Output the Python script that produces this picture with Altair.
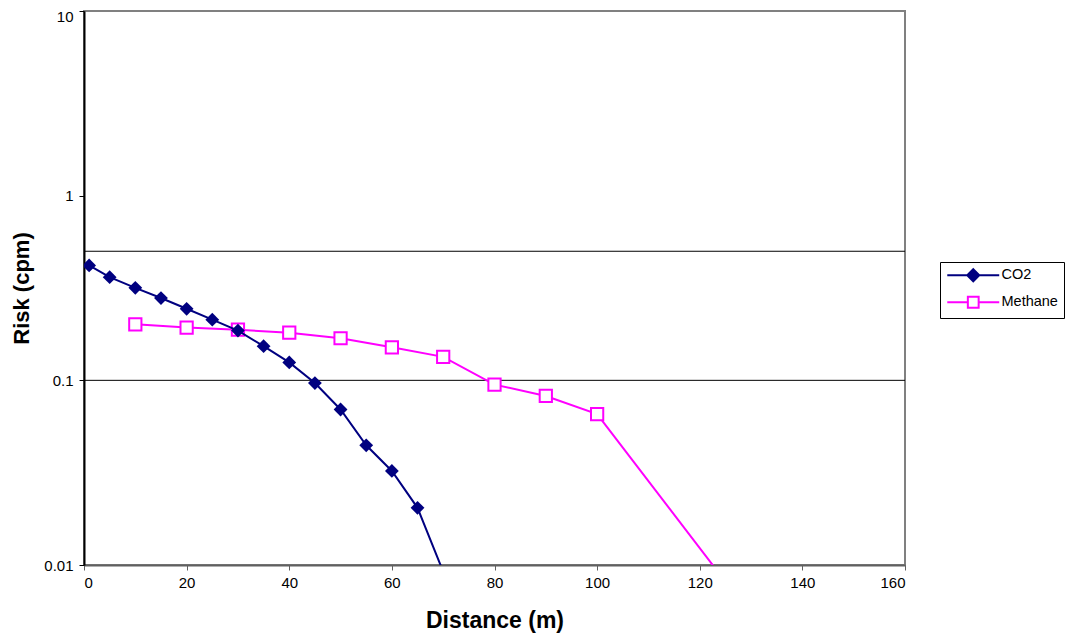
import altair as alt
import pandas as pd

# ---- data ----
co2_distance = [1, 5, 10, 15, 20, 25, 30, 35, 40, 45, 50, 55, 60, 65, 70]
co2_risk = [0.419, 0.362, 0.317, 0.279, 0.244, 0.213, 0.186, 0.153, 0.125,
            0.0967, 0.0695, 0.0445, 0.0323, 0.0204, 0.0092]
methane_distance = [10, 20, 30, 40, 50, 60, 70, 80, 90, 100, 130]
methane_risk = [0.201, 0.193, 0.188, 0.181, 0.169, 0.151, 0.134, 0.0948,
                0.0823, 0.0657, 0.00535]
threshold_risk = [0.5, 0.1]
series_names = ["CO2", "Methane"]
series_colors = ["#000080", "#FF00FF"]
series_fills = ["#000080", "#FFFFFF"]
x_ticks = [0, 20, 40, 60, 80, 100, 120, 140, 160]
y_ticks = [0.01, 0.1, 1, 10]

# legend symbols: line with marker (unit = half marker size)
legend_paths = [
    "M-4.33,0L4.33,0M0,-1L1,0L0,1L-1,0Z",
    "M-4.33,0L-0.9,0M0.9,0L4.33,0M-0.9,-0.9L0.9,-0.9L0.9,0.9L-0.9,0.9Z",
]

FONT = "Liberation Sans"

df = pd.DataFrame({
    "series": ["CO2"] * len(co2_distance) + ["Methane"] * len(methane_distance),
    "distance": co2_distance + methane_distance,
    "risk": co2_risk + methane_risk,
})
thr = pd.DataFrame({"risk": threshold_risk})

x_enc = alt.X(
    "distance:Q",
    scale=alt.Scale(domain=[0, 160], nice=False, zero=False),
    axis=alt.Axis(
        values=x_ticks, title="Distance (m)", grid=False,
        domainColor="#606060", domainWidth=2, tickColor="#606060", tickSize=5,
        labelFont=FONT, labelFontSize=15, labelColor="black", labelPadding=5,
        titleFont=FONT, titleFontSize=23, titleFontWeight="bold", titleColor="black",
        titleY=62, titleBaseline="alphabetic",
    ),
)
y_enc = alt.Y(
    "risk:Q",
    scale=alt.Scale(type="log", domain=[0.01, 10], nice=False),
    axis=alt.Axis(
        values=y_ticks, format="~g", title="Risk (cpm)", grid=False,
        domainColor="black", domainWidth=2, tickColor="black", tickSize=5,
        labelFont=FONT, labelFontSize=15, labelColor="black", labelPadding=6,
        labelOffset={"expr": "datum.value == 10 ? 5 : 0"},
        titleFont=FONT, titleFontSize=22, titleFontWeight="bold", titleColor="black",
        titleX=-56, titleY=277, titleAngle=270, titleBaseline="alphabetic",
        titleAlign="center",
    ),
)

base = alt.Chart(df)

rules = alt.Chart(thr).mark_rule(color="black", strokeWidth=1).encode(y=y_enc)

meth_line = base.transform_filter(alt.datum.series == "Methane").mark_line(
    clip=True, color="#FF00FF", strokeWidth=2).encode(x=x_enc, y=y_enc)
meth_pts = base.transform_filter(alt.datum.series == "Methane").transform_filter(
    alt.datum.risk >= 0.01).mark_point(
    shape="square", size=150, filled=True, fill="white", stroke="#FF00FF",
    strokeWidth=2, opacity=1, clip=True).encode(x=x_enc, y=y_enc)
co2_line = base.transform_filter(alt.datum.series == "CO2").mark_line(
    clip=True, color="#000080", strokeWidth=2).encode(x=x_enc, y=y_enc)
co2_pts = base.transform_filter(alt.datum.series == "CO2").transform_filter(
    alt.datum.risk >= 0.01).mark_point(
    shape="diamond", size=190, filled=True, color="#000080", opacity=1,
    clip=True).encode(x=x_enc, y=y_enc)

leg = alt.Legend(
    title=None, orient="none", legendX=856, legendY=251,
    symbolSize=144, symbolStrokeWidth=2, symbolOpacity=1, symbolOffset=20,
    labelFont=FONT, labelFontSize=14.5, labelColor="black", labelOffset=21,
    padding=6, rowPadding=6, strokeColor="black", fillColor="white",
)
legend_layer = base.transform_filter("false").mark_point(
    opacity=1, strokeWidth=2).encode(
    x=x_enc, y=y_enc,
    shape=alt.Shape("series:N", scale=alt.Scale(domain=series_names, range=legend_paths), legend=leg),
    fill=alt.Fill("series:N", scale=alt.Scale(domain=series_names, range=series_fills), legend=leg),
    stroke=alt.Stroke("series:N", scale=alt.Scale(domain=series_names, range=series_colors), legend=leg),
)

chart = alt.layer(rules, meth_line, meth_pts, co2_line, co2_pts, legend_layer).properties(
    width=821, height=554,
    autosize=alt.AutoSizeParams(type="none"),
    padding={"left": 76, "top": 3, "right": 160, "bottom": 69},
).configure_view(
    stroke="#808080", strokeWidth=2
).configure_axis(
    labelFont=FONT, labelFontSize=15, labelColor="black"
)

chart.save("out.html", embed_options={"renderer": "svg", "actions": False})
